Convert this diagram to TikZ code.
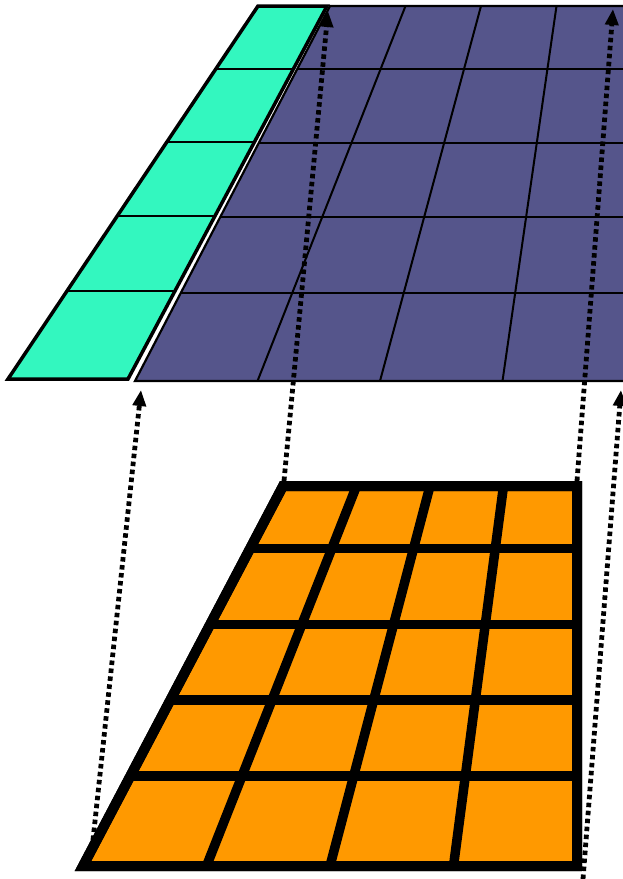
\documentclass[tikz,border=0pt]{standalone}
\usetikzlibrary{calc,arrows.meta}
\definecolor{tealc}{RGB}{51,247,191}
\definecolor{purplec}{RGB}{85,85,139}
\definecolor{orangec}{RGB}{255,153,0}
\tikzset{
  tealplane/.style={fill=tealc,draw=black,line width=3.5pt,line join=miter},
  tealline/.style={draw=black,line width=2.2pt},
  purpleplane/.style={fill=purplec,draw=black,line width=2.2pt},
  purpleline/.style={draw=black,line width=2pt},
  orangeplane/.style={fill=orangec,draw=black,line width=10pt,line join=miter},
  orangeline/.style={draw=black,line width=9.5pt},
  maparrow/.style={draw=black,line width=4.8pt,dash pattern=on 4.5pt off 3.5pt,
    -{Triangle[length=16pt,width=13pt]}}
}
\begin{document}
\begin{tikzpicture}[x=1pt,y=-1pt]
\useasboundingbox (0,0) rectangle (623,879);
\clip (0,0) rectangle (623,879);
% teal strip corners
\coordinate (ttl) at (258,6);
\coordinate (ttr) at (327,6);
\coordinate (tbr) at (128,379);
\coordinate (tbl) at (8,379);
% purple plane corners
\coordinate (ptl) at (330,6);
\coordinate (ptr) at (708,6);
\coordinate (pbr) at (747,381);
\coordinate (pbl) at (135,381);
% orange grid corners
\coordinate (otl) at (283,486);
\coordinate (otr) at (577,486);
\coordinate (obr) at (577,866);
\coordinate (obl) at (83,866);

% purple plane
\path[purpleplane] (ptl) -- (ptr) -- (pbr) -- (pbl) -- cycle;
\foreach \t in {0.169,0.365,0.563,0.764}{
  \draw[purpleline] ($(ptl)!\t!(pbl)$) -- ($(ptr)!\t!(pbr)$);
}
\foreach \i in {1,2,3,4}{
  \draw[purpleline] (330+\i*75.5,6) -- (135+\i*122.5,381);
}
% teal strip
\path[tealplane] (ttl) -- (ttr) -- (tbr) -- (tbl) -- cycle;
\foreach \t in {0.169,0.365,0.563,0.764}{
  \draw[tealline] ($(ttl)!\t!(tbl)$) -- ($(ttr)!\t!(tbr)$);
}
% orange grid
\path[orangeplane] (otl) -- (otr) -- (obr) -- (obl) -- cycle;
\foreach \t in {0.164,0.364,0.563,0.763}{
  \draw[orangeline] ($(otl)!\t!(obl)$) -- ($(otr)!\t!(obr)$);
}
\foreach \i in {1,2,3}{
  \draw[orangeline] (283+\i*73.5,486) -- (83+\i*123.5,866);
}
\draw[black,line width=10pt,line join=miter] (otl) -- (otr) -- (obr) -- (obl) -- cycle;

% arrows
\coordinate (a1s) at (93,840);
\coordinate (a1e) at (141,390);
\coordinate (a2s) at (284,481);
\coordinate (a2e) at (328,11);
\coordinate (a3s) at (577,481);
\coordinate (a3e) at (613,9);
\coordinate (a4s) at (583,879);
\coordinate (a4e) at (621,390);
\draw[maparrow] (a1s) -- (a1e);
\draw[maparrow] (a2s) -- (a2e);
\draw[maparrow] (a3s) -- (a3e);
\draw[maparrow] (a4s) -- (a4e);
\end{tikzpicture}
\end{document}
